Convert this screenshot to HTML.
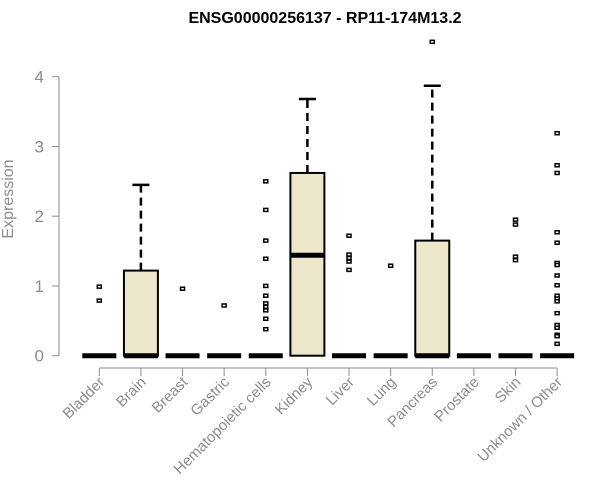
<!DOCTYPE html>
<html><head><meta charset="utf-8"><style>
html,body{margin:0;padding:0;background:#fff;}
svg{display:block;font-family:"Liberation Sans",Arial,sans-serif;}
</style></head><body>
<svg id="chart" width="600" height="500" xmlns="http://www.w3.org/2000/svg">
<text x="325" y="23" text-anchor="middle" font-size="16" font-weight="bold">ENSG00000256137 - RP11-174M13.2</text>
<text transform="translate(13,199) rotate(-90)" text-anchor="middle" font-size="16" fill="#8c8c8c">Expression</text>
<g id="axes"></g>
<g id="boxes"></g>
</svg>
<script>
const categories = ["Bladder","Brain","Breast","Gastric","Hematopoietic cells","Kidney","Liver","Lung","Pancreas","Prostate","Skin","Unknown / Other"];
const q1 = [0,0,0,0,0,0,0,0,0,0,0,0];
const medians = [0,0,0,0,0,1.44,0,0,0,0,0,0];
const q3 = [0,1.22,0,0,0,2.62,0,0,1.65,0,0,0];
const whiskerHigh = [0,2.45,0,0,0,3.68,0,0,3.87,0,0,0];
const outliers = [
 [0.99,0.79],
 [],
 [0.96],
 [0.72],
 [2.5,2.09,1.65,1.39,1.0,0.86,0.75,0.70,0.65,0.53,0.38],
 [],
 [1.72,1.45,1.40,1.35,1.23],
 [1.29],
 [4.5],
 [],
 [1.95,1.88,1.42,1.37],
 [3.19,2.73,2.62,1.77,1.62,1.33,1.30,1.15,1.01,0.86,0.82,0.78,0.61,0.44,0.40,0.30,0.28,0.17]
];
const yTicks = [0,1,2,3,4];

const NS="http://www.w3.org/2000/svg";
function y(v){return 355.7 - v*69.75;}
function x(i){return 99.3 + i*41.62;}
function mk(tag,attrs,parent){const e=document.createElementNS(NS,tag);for(const k in attrs)e.setAttribute(k,attrs[k]);parent.appendChild(e);return e;}
const axes=document.getElementById('axes');
const boxes=document.getElementById('boxes');
const grey="#8c8c8c";

let yl=mk('line',{x1:59,x2:59,y1:y(0),y2:y(4),stroke:grey,'stroke-width':1},axes);


yTicks.forEach(t=>{
  const tl=mk('line',{x1:52,x2:59,y1:y(t),y2:y(t),stroke:grey},axes);
  
  
  const tx=mk('text',{x:44,y:y(t)+6,'text-anchor':'end','font-size':17,fill:grey},axes);
  tx.textContent=t;
  
  
});
let xl=mk('line',{x1:x(0),x2:x(categories.length-1),y1:368,y2:368,stroke:grey},axes);



categories.forEach((c,i)=>{
  const cx=x(i);
  const tk=mk('line',{x1:cx,x2:cx,y1:368,y2:376,stroke:grey},axes);
  
  
  const lb=mk('text',{transform:`translate(${cx+6},${383}) rotate(-45)`,'text-anchor':'end','font-size':15,fill:grey},axes);
  lb.textContent=c;
  
  

  const g=mk('g',{},boxes);
  
  
  const hw=17;
  if(whiskerHigh[i]>q3[i]){
    mk('line',{x1:cx,x2:cx,y1:y(q3[i]),y2:y(whiskerHigh[i]),stroke:'#000','stroke-width':2.5,'stroke-dasharray':'8,5'},g);
    mk('line',{x1:cx-8.5,x2:cx+8.5,y1:y(whiskerHigh[i]),y2:y(whiskerHigh[i]),stroke:'#000','stroke-width':2.5},g);
  }
  if(q3[i]>q1[i]){
    mk('rect',{x:cx-hw,y:y(q3[i]),width:hw*2,height:y(q1[i])-y(q3[i]),fill:'#ede7cc',stroke:'#000','stroke-width':2},g);
  }
  mk('line',{x1:cx-hw,x2:cx+hw,y1:y(medians[i]),y2:y(medians[i]),stroke:'#000','stroke-width':5},g);
  outliers[i].forEach(v=>{
    const o=mk('rect',{x:cx-2,y:y(v)-1.5,width:4,height:3,fill:'#fff',stroke:'#000','stroke-width':1.5},g);
    
    
  });
});
</script>
</body></html>
